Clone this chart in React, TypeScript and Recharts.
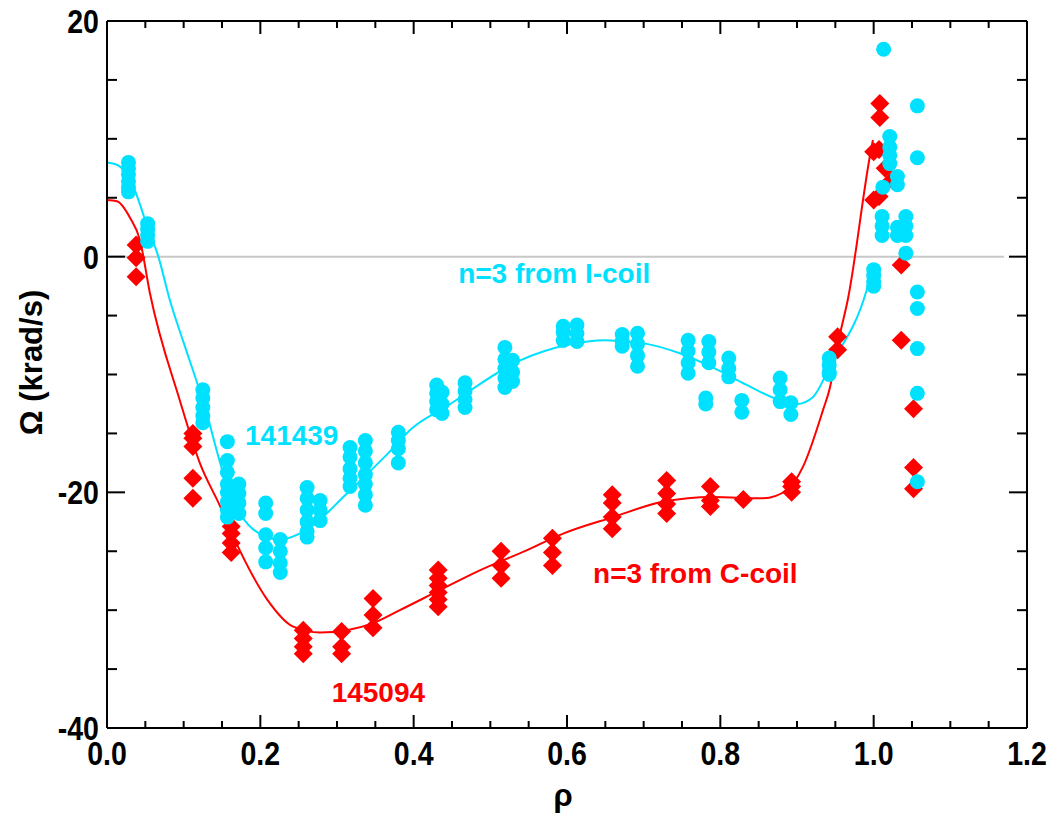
import React from 'react';
import { ComposedChart, Line, Scatter, XAxis, YAxis, ReferenceLine } from 'recharts';

// shot 141439, n=3 from I-coil (cyan circles)
const iCoilPoints: [number, number][] = [
  [0.028, 8.0], [0.028, 7.5], [0.028, 7.0], [0.028, 6.4], [0.028, 5.9], [0.028, 5.5],
  [0.053, 2.8], [0.053, 2.3], [0.053, 1.8], [0.053, 1.3],
  [0.125, -11.3], [0.125, -12.0], [0.125, -12.8], [0.125, -13.5], [0.125, -14.1],
  [0.157, -15.7], [0.157, -17.3], [0.157, -18.3], [0.157, -19.3], [0.157, -20.0], [0.157, -20.8], [0.157, -21.5], [0.157, -22.1],
  [0.172, -19.3], [0.172, -20.1], [0.172, -20.9], [0.172, -21.8],
  [0.207, -20.9], [0.207, -21.8], [0.207, -23.6], [0.207, -24.7], [0.207, -25.9],
  [0.226, -24.0], [0.226, -25.0], [0.226, -26.0], [0.226, -26.8],
  [0.261, -19.6], [0.261, -20.5], [0.261, -21.5], [0.261, -22.5], [0.261, -23.3], [0.261, -23.8],
  [0.278, -20.7], [0.278, -21.5], [0.278, -22.4],
  [0.317, -16.2], [0.317, -17.0], [0.317, -18.0], [0.317, -18.8], [0.317, -19.5],
  [0.337, -15.6], [0.337, -16.5], [0.337, -17.5], [0.337, -18.5], [0.337, -19.3], [0.337, -20.2], [0.337, -21.1],
  [0.38, -14.9], [0.38, -15.6], [0.38, -16.3], [0.38, -17.5],
  [0.43, -10.9], [0.43, -11.6], [0.43, -12.3], [0.43, -13.0], [0.437, -11.5], [0.437, -12.5], [0.437, -13.3],
  [0.467, -10.7], [0.467, -11.4], [0.467, -12.1], [0.467, -12.8],
  [0.519, -7.7], [0.519, -8.7], [0.519, -9.5], [0.519, -10.3], [0.519, -11.1],
  [0.529, -8.8], [0.529, -9.8], [0.529, -10.6],
  [0.595, -5.9], [0.595, -6.4], [0.595, -7.1], [0.613, -5.8], [0.613, -6.5], [0.613, -7.2],
  [0.672, -6.6], [0.672, -7.2], [0.672, -7.6],
  [0.692, -6.5], [0.692, -7.4], [0.692, -8.4], [0.692, -9.3],
  [0.758, -7.1], [0.758, -8.0], [0.758, -9.0], [0.758, -9.9],
  [0.781, -12.0], [0.781, -12.5], [0.785, -7.2], [0.785, -8.1], [0.785, -9.0],
  [0.811, -8.6], [0.811, -9.5], [0.811, -10.2],
  [0.828, -12.2], [0.828, -13.2],
  [0.878, -10.3], [0.878, -11.3], [0.878, -12.3],
  [0.892, -12.4], [0.892, -13.4],
  [0.942, -8.6], [0.942, -9.2], [0.942, -9.8], [0.942, -10.0],
  [1.0, -1.1], [1.0, -1.6], [1.0, -2.1], [1.0, -2.5],
  [1.013, 17.6],
  [1.021, 10.2], [1.021, 9.3], [1.021, 8.6], [1.021, 7.9],
  [1.012, 5.9], [1.031, 6.8], [1.031, 6.1],
  [1.011, 3.4], [1.011, 2.6], [1.011, 1.8], [1.031, 2.5], [1.031, 1.8],
  [1.042, 3.4], [1.042, 2.6], [1.042, 1.8], [1.042, 0.3],
  [1.057, 12.8], [1.057, 8.4], [1.057, -3.0], [1.057, -4.4], [1.057, -7.8], [1.057, -11.6], [1.057, -19.1],
];

// shot 145094, n=3 from C-coil (red diamonds)
const cCoilPoints: [number, number][] = [
  [0.038, 1.0], [0.038, -0.1], [0.038, -1.7],
  [0.112, -15.0], [0.112, -15.4], [0.112, -16.1], [0.112, -18.8], [0.112, -20.5],
  [0.162, -22.9], [0.162, -23.5], [0.162, -24.3], [0.162, -25.1],
  [0.256, -31.7], [0.256, -32.4], [0.256, -33.1], [0.256, -33.7],
  [0.306, -31.8], [0.306, -33.1], [0.306, -33.7],
  [0.347, -29.0], [0.347, -30.4], [0.347, -31.5],
  [0.432, -26.6], [0.432, -27.3], [0.432, -27.9], [0.432, -28.5], [0.432, -29.1], [0.432, -29.7],
  [0.514, -25.0], [0.514, -26.2], [0.514, -27.3],
  [0.581, -23.9], [0.581, -25.1], [0.581, -26.2],
  [0.659, -20.2], [0.659, -20.9], [0.659, -22.1], [0.659, -23.1],
  [0.73, -19.0], [0.73, -20.1], [0.73, -21.0], [0.73, -21.8],
  [0.787, -19.5], [0.787, -20.7], [0.787, -21.2],
  [0.83, -20.6],
  [0.893, -19.1], [0.893, -19.5], [0.893, -20.0],
  [0.953, -6.8], [0.953, -7.9],
  [1.0, 8.9], [1.0, 4.8], [1.007, 9.1], [1.007, 5.1],
  [1.008, 13.0], [1.008, 11.8],
  [1.015, 7.5], [1.024, 6.5],
  [1.036, -0.7], [1.036, -7.1],
  [1.052, -12.9], [1.052, -17.9], [1.052, -19.7],
];

// fitted profiles
const iCoilFit: [number, number][] = [
  [0, 8.0], [0.013, 7.8], [0.03, 6.6], [0.053, 2.5], [0.067, 0], [0.082, -3.7], [0.1, -7.3],
  [0.125, -12.2], [0.16, -20.0], [0.19, -23.1], [0.225, -24.0], [0.26, -23.2], [0.313, -20.1],
  [0.365, -16.8], [0.399, -14.5], [0.443, -12.7], [0.539, -8.8], [0.6, -7.5], [0.65, -7.1],
  [0.704, -7.4], [0.747, -8.2], [0.79, -9.4], [0.835, -10.9], [0.878, -12.2], [0.9, -12.5],
  [0.921, -11.9], [0.943, -9.3], [0.991, -2.8], [0.999, -0.9],
];

const cCoilFit: [number, number][] = [
  [0, 4.8], [0.013, 4.7], [0.03, 3.3], [0.043, 1.4], [0.056, -3.1], [0.095, -12.2], [0.121, -17.5],
  [0.147, -21.1], [0.173, -24.9], [0.209, -29.1], [0.243, -31.4], [0.278, -31.9], [0.313, -31.7],
  [0.347, -31.1], [0.382, -30.0], [0.434, -28.3], [0.487, -26.6], [0.548, -24.9], [0.595, -23.5],
  [0.66, -22.1], [0.725, -20.8], [0.79, -20.4], [0.856, -20.5], [0.887, -19.8], [0.908, -17.8],
  [0.934, -13.0], [0.943, -11.1], [0.953, -7.5], [0.967, -3.4], [0.995, 8.5], [0.999, 9.9],
];

const notes = [
  { x: 0.458, y: -2.2, text: 'n=3 from I-coil', color: '#00E1FF' },
  { x: 0.18, y: -16.0, text: '141439', color: '#00E1FF' },
  { x: 0.634, y: -27.7, text: 'n=3 from C-coil', color: '#FF0000' },
  { x: 0.293, y: -37.8, text: '145094', color: '#FF0000' },
];

const xTicks = [0, 0.05, 0.1, 0.15, 0.2, 0.25, 0.3, 0.35, 0.4, 0.45, 0.5, 0.55, 0.6, 0.65, 0.7, 0.75, 0.8, 0.85, 0.9, 0.95, 1.0, 1.05, 1.1, 1.15, 1.2];
const xLabels = [0, 0.2, 0.4, 0.6, 0.8, 1.0, 1.2];
const yTicks = [-40, -35, -30, -25, -20, -15, -10, -5, 0, 5, 10, 15, 20];
const yLabels = [-40, -20, 0, 20];

const CYAN = '#00E1FF';
const RED = '#FF0000';
const textFont = "'Liberation Sans', Arial, Helvetica, sans-serif";

const toRows = (pts: [number, number][]) => pts.map(([x, y]) => ({ x, y }));
const isMajor = (v: number, list: number[]) => list.some((m) => Math.abs(m - v) < 1e-6);

// condensed bold tick label (squeezed horizontally like the original)
const NarrowText = ({ x, y, anchor, children }: any) => (
  <text transform={`translate(${x},${y}) scale(0.84,1)`} x={0} y={0} textAnchor={anchor}
    fontFamily={textFont} fontWeight="bold" fontSize={34} fill="#000">
    {children}
  </text>
);

const BottomTick = (props: any) => {
  const { x, y, payload } = props;
  const major = isMajor(payload.value, xLabels);
  return (
    <g>
      <line x1={x} x2={x} y1={y} y2={y - (major ? 13 : 7)} stroke="#000" strokeWidth={2} />
      {major && <NarrowText x={x} y={y + 37} anchor="middle">{payload.value.toFixed(1)}</NarrowText>}
    </g>
  );
};

const TopTick = (props: any) => {
  const { x, y, payload } = props;
  const major = isMajor(payload.value, xLabels);
  return <line x1={x} x2={x} y1={y} y2={y + (major ? 13 : 7)} stroke="#000" strokeWidth={2} />;
};

const LeftTick = (props: any) => {
  const { x, y, payload } = props;
  const major = isMajor(payload.value, yLabels);
  return (
    <g>
      <line x1={x} x2={x + (major ? 18 : 10)} y1={y} y2={y} stroke="#000" strokeWidth={2} />
      {major && <NarrowText x={x - 8} y={y + 12} anchor="end">{payload.value}</NarrowText>}
    </g>
  );
};

const RightTick = (props: any) => {
  const { x, y, payload } = props;
  const major = isMajor(payload.value, yLabels);
  return <line x1={x} x2={x - (major ? 18 : 10)} y1={y} y2={y} stroke="#000" strokeWidth={2} />;
};

const YTitle = (props: any) => {
  const vb = props.viewBox || { x: 0, y: 21, width: 107, height: 707 };
  const cx = vb.x + 31;
  const cy = vb.y + vb.height / 2 - 12;
  return (
    <text x={cx} y={cy} transform={`rotate(-90 ${cx} ${cy})`} textAnchor="middle" dominantBaseline="central"
      fontFamily={textFont} fontWeight="bold" fontSize={31} fill="#000">
      Ω (krad/s)
    </text>
  );
};

const XTitle = (props: any) => {
  const vb = props.viewBox || { x: 107, y: 728, width: 920, height: 88 };
  return (
    <text x={vb.x + vb.width / 2 - 4} y={vb.y + 78} textAnchor="middle"
      fontFamily={textFont} fontWeight="bold" fontSize={31} fill="#000">
      ρ
    </text>
  );
};

const Dot = (props: any) => <circle cx={props.cx} cy={props.cy} r={7.5} fill={CYAN} />;
const Diamond = (props: any) => {
  const { cx, cy } = props;
  const h = 9.5;
  return <polygon points={`${cx},${cy - h} ${cx + h},${cy} ${cx},${cy + h} ${cx - h},${cy}`} fill={RED} />;
};
const Note = (props: any) => {
  const p = props.payload;
  return (
    <text x={props.cx} y={props.cy} fontFamily={textFont} fontWeight="bold" fontSize={28} fill={p.color}>
      {p.text}
    </text>
  );
};

const App: React.FC = () => {
  return (
    <div style={{ position: 'absolute', left: 0, top: 0, background: '#fff' }}>
      <ComposedChart width={1052} height={816} margin={{ top: 1, right: 0, bottom: 0, left: 0 }}>
        <XAxis xAxisId={0} type="number" dataKey="x" domain={[0, 1.2]} ticks={xTicks} interval={0}
          allowDataOverflow height={88} tickSize={0} tickMargin={0} tickLine={false}
          axisLine={{ stroke: '#000', strokeWidth: 2 }} tick={<BottomTick />} label={<XTitle />} />
        <XAxis xAxisId="top" orientation="top" type="number" dataKey="x" domain={[0, 1.2]} ticks={xTicks} interval={0}
          allowDataOverflow height={20} tickSize={0} tickMargin={0} tickLine={false}
          axisLine={{ stroke: '#000', strokeWidth: 2 }} tick={<TopTick />} />
        <YAxis yAxisId={0} type="number" dataKey="y" domain={[-40, 20]} ticks={yTicks} interval={0}
          allowDataOverflow width={107} tickSize={0} tickMargin={0} tickLine={false}
          axisLine={{ stroke: '#000', strokeWidth: 2 }} tick={<LeftTick />} label={<YTitle />} />
        <YAxis yAxisId="right" orientation="right" type="number" dataKey="y" domain={[-40, 20]} ticks={yTicks} interval={0}
          allowDataOverflow width={25} tickSize={0} tickMargin={0} tickLine={false}
          axisLine={{ stroke: '#000', strokeWidth: 2 }} tick={<RightTick />} />
        <ReferenceLine segment={[{ x: 0, y: 0 }, { x: 1.17, y: 0 }]} stroke="#C8C8C8" strokeWidth={2} />
        <Line data={toRows(cCoilFit)} dataKey="y" type="monotone" stroke={RED} strokeWidth={2} dot={false} isAnimationActive={false} />
        <Line data={toRows(iCoilFit)} dataKey="y" type="monotone" stroke={CYAN} strokeWidth={2} dot={false} isAnimationActive={false} />
        <Scatter data={toRows(cCoilPoints)} dataKey="y" shape={<Diamond />} isAnimationActive={false} />
        <Scatter data={toRows(iCoilPoints)} dataKey="y" shape={<Dot />} isAnimationActive={false} />
        <Scatter data={notes} dataKey="y" shape={<Note />} isAnimationActive={false} />
      </ComposedChart>
    </div>
  );
};

export default App;
